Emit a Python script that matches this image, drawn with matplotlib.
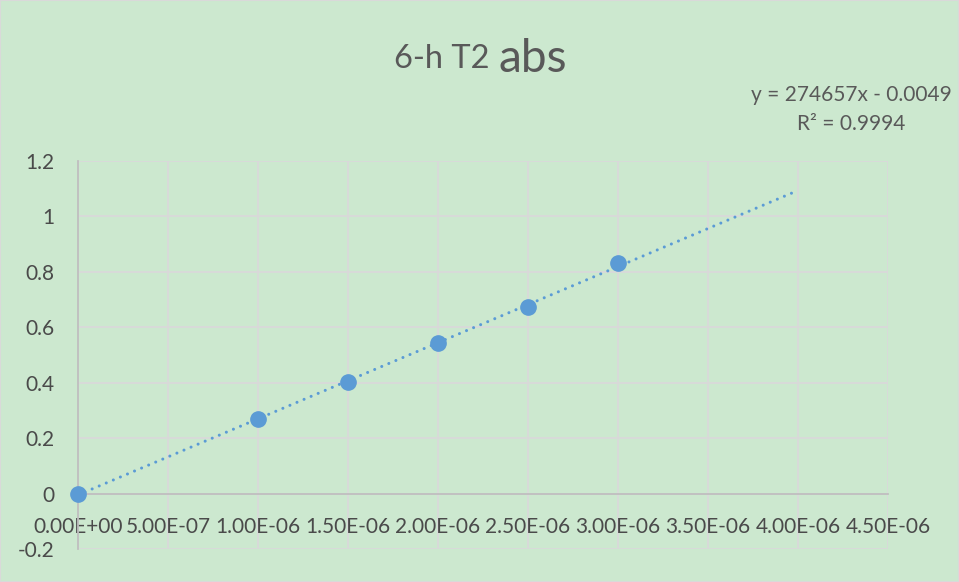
import numpy as np
import matplotlib.pyplot as plt
from matplotlib.patches import Rectangle

# concentration (M) vs absorbance
conc = [0.0, 1.0e-6, 1.5e-6, 2.0e-6, 2.5e-6, 3.0e-6]
absorb = [0.0, 0.268, 0.404, 0.542, 0.673, 0.831]

# linear trendline from the fit
slope = 274657
intercept = -0.0049
r2 = 0.9994

xticks = np.arange(0, 4.51e-6, 0.5e-6)
yticks = [-0.2, 0, 0.2, 0.4, 0.6, 0.8, 1, 1.2]

bg = '#CCE8CF'
grid_col = '#D9D9D9'
txt_col = '#595959'
blue = '#5B9BD5'

plt.rcParams['font.family'] = ['Lato', 'DejaVu Sans']

fig = plt.figure(figsize=(9.59, 5.82), dpi=100, facecolor=bg)
fig.patches.append(Rectangle((0, 0), 1, 1, transform=fig.transFigure,
                             fill=False, edgecolor=grid_col, lw=1.5))
ax = fig.add_axes([78/959, 1-549/582, 810/959, 388/582])
ax.set_facecolor(bg)

ax.set_xlim(0, 4.5e-6)
ax.set_ylim(-0.2, 1.2)
ax.set_xticks(xticks)
ax.set_yticks(yticks)
ax.set_xticklabels(['%.2E' % v if v != 0 else '0.00E+00' for v in xticks])
ax.set_yticklabels(['%g' % v for v in yticks])
ax.grid(True, color=grid_col, lw=1.3)
ax.set_axisbelow(True)

for s in ['top', 'right']:
    ax.spines[s].set_visible(False)
ax.spines['bottom'].set_position(('data', 0))
ax.spines['bottom'].set_color('#BFBFBF')
ax.spines['bottom'].set_linewidth(1.3)
ax.spines['left'].set_color('#BFBFBF')
ax.spines['left'].set_linewidth(1.3)
ax.tick_params(length=0, labelsize=15, colors='#4a4a4a')
ax.tick_params(axis='x', pad=17)
ax.tick_params(axis='y', pad=17)

# trendline, forecast forward to 4E-06
xt = np.array([0, 4.0e-6])
ax.plot(xt, slope*xt + intercept, color=blue, lw=2.2,
        linestyle=(0, (0.01, 2.5)), dash_capstyle='round', clip_on=False)
ax.plot(conc, absorb, 'o', color=blue, ms=11, clip_on=False, zorder=5)

fig.text(0.5195, 1-59/582, '6-h T2 ', ha='right', va='center', fontsize=23.5, color=txt_col)
fig.text(0.5195, 1-59/582, 'abs', ha='left', va='center', fontsize=33, color=txt_col)

fig.text(851/959, 1-95/582, 'y = %dx - %.4f' % (slope, -intercept), ha='center',
         va='center', fontsize=15, color=txt_col)
fig.text(851/959, 1-124/582, 'R² = %.4f' % r2, ha='center', va='center',
         fontsize=15, color=txt_col)

fig.savefig('out.png', dpi=100, facecolor=bg)
